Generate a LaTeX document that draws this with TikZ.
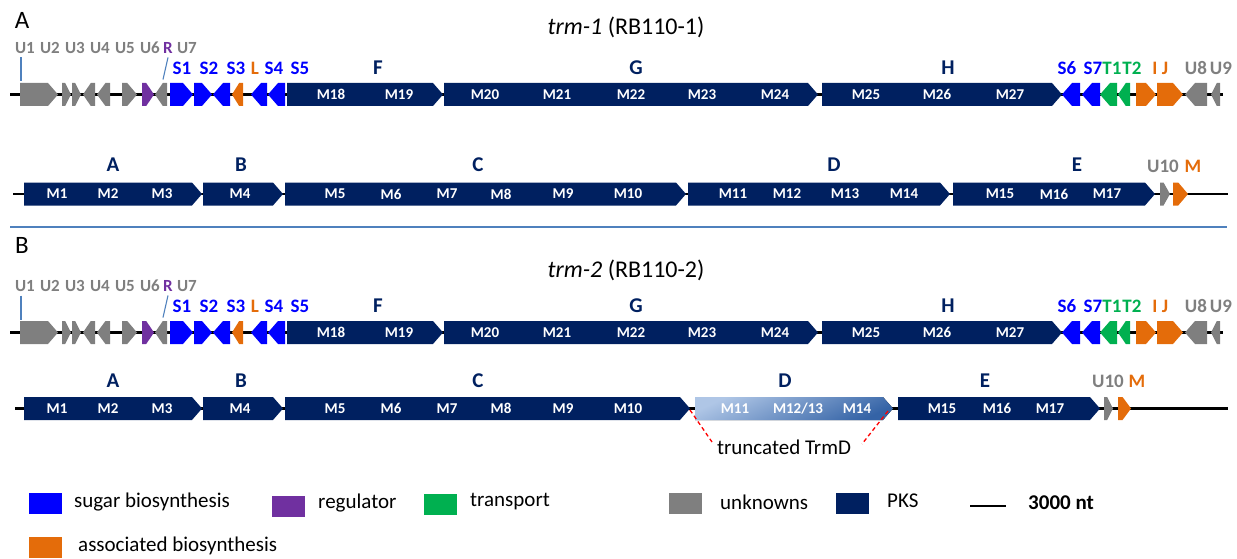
\documentclass[tikz,border=0pt]{standalone}
\usepackage{fontspec}
\setmainfont{Carlito}

\definecolor{sugar}{HTML}{0000FF}
\definecolor{regul}{HTML}{7030A0}
\definecolor{transp}{HTML}{00B050}
\definecolor{unk}{HTML}{7F7F7F}
\definecolor{pks}{HTML}{002060}
\definecolor{assoc}{HTML}{E46C0A}
\definecolor{rulecol}{HTML}{4F81BD}
\definecolor{dlight}{HTML}{AFC6E6}
\definecolor{ddark}{HTML}{3463A6}
\definecolor{trred}{HTML}{FF0000}

% half height of a gene arrow
\def\ghh{11.5}
% forward gene: x1, x2, y, colour/options
\newcommand\gR[4]{%
  \pgfmathsetmacro\gtip{min(10,0.65*(#2-#1))}%
  \fill[#4] (#1,#3-\ghh) -- ({#2-\gtip},#3-\ghh) -- (#2,#3) -- ({#2-\gtip},#3+\ghh) -- (#1,#3+\ghh) -- cycle;}
% reverse gene: x1, x2, y, colour/options
\newcommand\gL[4]{%
  \pgfmathsetmacro\gtip{min(10,0.65*(#2-#1))}%
  \fill[#4] (#2,#3-\ghh) -- ({#1+\gtip},#3-\ghh) -- (#1,#3) -- ({#1+\gtip},#3+\ghh) -- (#2,#3+\ghh) -- cycle;}

\tikzset{
  dna/.style={line width=2.6pt, black},
  mlab/.style={text=white, font=\fontsize{15}{17}\selectfont\bfseries, inner sep=0pt},
  clab/.style={text=pks, font=\fontsize{21}{24}\selectfont\bfseries, inner sep=0pt},
  glab/.style={font=\fontsize{19}{21}\selectfont\bfseries, inner sep=0pt},
  ulab/.style={text=unk, font=\fontsize{17}{19}\selectfont\bfseries, inner sep=0pt},
  tick/.style={rulecol, line width=1.1pt},
  legtext/.style={font=\fontsize{21}{25}\selectfont, anchor=west, inner sep=0pt},
  swatch/.style={minimum width=34pt, minimum height=22pt, inner sep=0pt, draw=white, line width=0.6pt},
  ptitle/.style={font=\fontsize{24}{28}\selectfont, inner sep=0pt},
  panel/.style={font=\fontsize{25}{28}\selectfont, inner sep=0pt},
  trdash/.style={trred, line width=1.3pt, dash pattern=on 4pt off 3pt}
}

% upper row of a cluster: #1 = y of the axis, #2 = name prefix
\newcommand\upperrow[2]{%
  \draw[dna] (10,#1) -- (1223,#1);
  \gR{20}{58}{#1}{unk}
  \gR{62}{71}{#1}{unk}
  \gR{72}{81}{#1}{unk}
  \gL{83}{95}{#1}{unk}
  \gL{97}{110}{#1}{unk}
  \gR{122}{137}{#1}{unk}
  \gR{142}{154}{#1}{regul}
  \gL{155}{167}{#1}{unk}
  \gR{170}{193}{#1}{sugar}
  \gR{194}{212}{#1}{sugar}
  \gL{213}{230}{#1}{sugar}
  \gL{232}{243}{#1}{assoc}
  \gL{251}{267}{#1}{sugar}
  \gL{268}{285}{#1}{sugar}
  \gR{287}{443}{#1}{pks}
  \gR{444}{818}{#1}{pks}
  \gR{822}{1062}{#1}{pks}
  \gL{1062}{1080}{#1}{sugar}
  \gL{1082}{1100}{#1}{sugar}
  \gL{1100}{1117}{#1}{transp}
  \gL{1118}{1130}{#1}{transp}
  \gR{1136}{1156}{#1}{assoc}
  \gR{1157}{1183}{#1}{assoc}
  \gL{1185}{1207}{#1}{unk}
  \gL{1211}{1220}{#1}{unk}
  % unknown ORF labels
  \foreach \t/\x [count=\i] in {U1/25,U2/50,U3/75,U4/100,U5/125,U6/150,U7/187}
    \node[ulab] (#2u\i) at (\x,#1-46.5) {\t};
  \node[ulab, text=regul] (#2r) at (168,#1-46.5) {R};
  % pointer ticks from the labels down to the genes
  \coordinate (#2ta) at (21,#1-37);
  \coordinate (#2tb) at (21,#1-13);
  \coordinate (#2tc) at (168,#1-37);
  \coordinate (#2td) at (163,#1-15);
  \draw[tick] (#2ta) -- (#2tb);
  \draw[tick] (#2tc) -- (#2td);
  % gene labels
  \foreach \t/\x/\c [count=\i] in {S1/182/sugar,S2/209/sugar,S3/236/sugar,L/255/assoc,S4/274/sugar,S5/300/sugar,
      S6/1067/sugar,S7/1093/sugar,T1/1112/transp,T2/1132/transp,I/1155/assoc,J/1165/assoc,U8/1196/unk,U9/1221/unk}
    \node[glab, text=\c] (#2g\i) at (\x,#1-26.5) {\t};
  \foreach \t/\x in {F/378,G/636,H/948}
    \node[clab] (#2\t) at (\x,#1-26.5) {\t};
  \foreach \t/\x in {M18/331,M19/399,M20/485,M21/557,M22/631,M23/702,M24/775,M25/866,M26/937,M27/1010}
    \node[mlab] (#2\t) at (\x,#1) {\t};
}

\begin{document}
\begin{tikzpicture}[x=1pt,y=-1pt]
\useasboundingbox (0,0) rectangle (1237,559);

% ---------------- panel A ----------------
\node[panel] (pA) at (22,20) {A};
\node[ptitle] (tA) at (626,27) {\textit{trm-1} (RB110-1)};
\upperrow{94.5}{a}

\draw[dna] (13,194) -- (1228,194);
\gR{24}{202}{194}{pks}
\gR{203}{283}{194}{pks}
\gR{285}{686}{194}{pks}
\gR{688}{950}{194}{pks}
\gR{953}{1155}{194}{pks}
\gR{1160}{1170}{194}{unk}
\gR{1173}{1188}{194}{assoc}
\foreach \t/\x in {A/113,B/241,C/478,D/834,E/1077}
  \node[clab] (aL\t) at (\x,165) {\t};
\node[ulab, font=\fontsize{19}{21}\selectfont\bfseries] (aU10) at (1163,166) {U10};
\node[glab, text=assoc] (aM) at (1193,166) {M};
\foreach \t/\x in {M1/57,M2/108,M3/162,M4/240,M5/335,M6/391,M7/447,M8/501,M9/563,M10/628,
    M11/733,M12/787,M13/845,M14/904,M15/1000,M16/1054,M17/1107}
  \node[mlab] (a\t) at (\x,194) {\t};

% separator between the panels
\draw[rulecol, line width=1.2pt] (10,227) -- (1227,227);

% ---------------- panel B ----------------
\node[panel] (pB) at (22,245) {B};
\node[ptitle] (tB) at (626,270) {\textit{trm-2} (RB110-2)};
\upperrow{332.5}{b}

\draw[dna] (15,408.5) -- (1228,408.5);
\gR{24}{202}{408.5}{pks}
\gR{203}{283}{408.5}{pks}
\gR{285}{690}{408.5}{pks}
\gR{695}{893}{408.5}{{top color=dlight, bottom color=ddark, shading angle=25}}
\gR{898}{1100}{408.5}{pks}
\gR{1104}{1113}{408.5}{unk}
\gR{1118}{1131}{408.5}{assoc}
\foreach \t/\x in {A/113,B/241,C/478,D/785,E/985}
  \node[clab] (bL\t) at (\x,381) {\t};
\node[ulab, font=\fontsize{19}{21}\selectfont\bfseries] (bU10) at (1108,381) {U10};
\node[glab, text=assoc] (bM) at (1137,381) {M};
\foreach \t/\x in {M1/57,M2/108,M3/162,M4/240,M5/335,M6/391,M7/447,M8/501,M9/563,M10/628,
    M11/735,M14/857,M15/942,M16/997,M17/1050}
  \node[mlab] (b\t) at (\x,408.5) {\t};
\node[mlab] (bM1213) at (798,408.5) {M12/13};

% truncated region marker
\node[font=\fontsize{21}{25}\selectfont, inner sep=0pt] (trunc) at (784,447) {truncated TrmD};
\coordinate (dl) at (690,410);
\coordinate (dr) at (888,411);
\coordinate (tl) at (712,442);
\coordinate (tr) at (862,444);
\draw[trdash] (dl) -- (tl);
\draw[trdash] (dr) -- (tr);

% ---------------- legend ----------------
\node[swatch, fill=sugar] (k1) at (45,503) {};
\node[legtext] (k1t) at (74,502) {sugar biosynthesis};
\node[swatch, fill=regul] (k2) at (288,506) {};
\node[legtext] (k2t) at (318,503) {regulator};
\node[swatch, fill=transp] (k3) at (440,504.5) {};
\node[legtext] (k3t) at (470,502) {transport};
\node[swatch, fill=unk] (k4) at (685,503) {};
\node[legtext] (k4t) at (720,502) {unknowns};
\node[swatch, fill=pks] (k5) at (852,503) {};
\node[legtext] (k5t) at (887,501) {PKS};
\node[swatch, fill=assoc] (k6) at (45,547.5) {};
\node[legtext] (k6t) at (78,546) {associated biosynthesis};
\coordinate (sa) at (970,506);
\coordinate (sb) at (1006,506);
\draw[line width=2pt] (sa) -- (sb);
\node[legtext, font=\fontsize{21}{25}\selectfont\bfseries] (k7t) at (1028,503) {3000 nt};
\end{tikzpicture}
\end{document}
